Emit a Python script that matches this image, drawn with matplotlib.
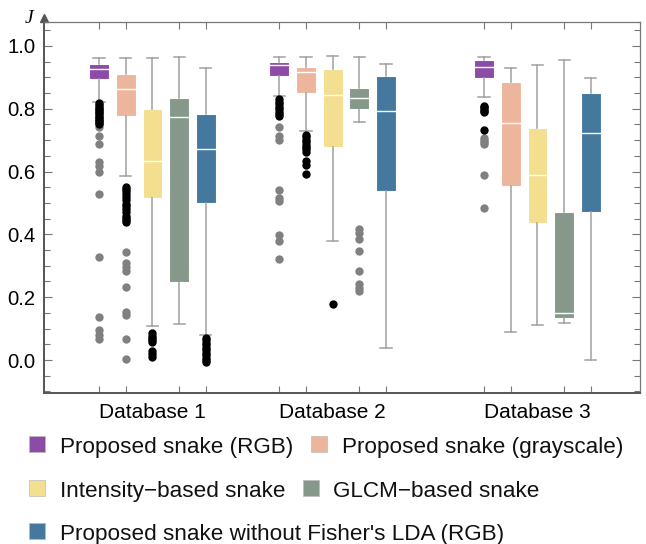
import matplotlib.pyplot as plt
from matplotlib.patches import Rectangle
from matplotlib.ticker import MultipleLocator

plt.rcParams["font.family"] = ["Liberation Sans", "DejaVu Sans"]

databases = ["Database 1", "Database 2", "Database 3"]
methods = [
    "Proposed snake (RGB)",
    "Proposed snake (grayscale)",
    "Intensity\u2212based snake",
    "GLCM\u2212based snake",
    "Proposed snake without Fisher's LDA (RGB)",
]
colors = ["#8b4ba6", "#edb69c", "#f3df8f", "#85988a", "#45789f"]

# (lower whisker, Q1, median, Q3, upper whisker) for each method
db1_stats = [
    (0.821, 0.894, 0.927, 0.943, 0.961),
    (0.586, 0.777, 0.863, 0.910, 0.961),
    (0.107, 0.515, 0.633, 0.799, 0.961),
    (0.115, 0.249, 0.773, 0.835, 0.964),
    (0.079, 0.501, 0.672, 0.782, 0.928),
]
db2_stats = [
    (0.842, 0.903, 0.940, 0.950, 0.963),
    (0.729, 0.850, 0.916, 0.934, 0.966),
    (0.380, 0.679, 0.843, 0.927, 0.969),
    (0.758, 0.799, 0.833, 0.865, 0.965),
    (0.037, 0.538, 0.792, 0.903, 0.942),
]
db3_stats = [
    (0.838, 0.898, 0.934, 0.954, 0.966),
    (0.090, 0.554, 0.754, 0.885, 0.928),
    (0.111, 0.437, 0.589, 0.738, 0.938),
    (0.117, 0.135, 0.151, 0.472, 0.955),
    (0.000, 0.472, 0.722, 0.849, 0.899),
]

# near outliers (black) and far outliers (gray)
db1_near = [
    [0.818, 0.812, 0.806, 0.800, 0.795, 0.790, 0.785, 0.780, 0.775, 0.770, 0.765, 0.760, 0.755, 0.750],
    [0.552, 0.545, 0.538, 0.527, 0.518, 0.508, 0.498, 0.490, 0.480, 0.470, 0.460, 0.452, 0.445, 0.440],
    [0.085, 0.078, 0.071, 0.064, 0.057, 0.030, 0.020, 0.011],
    [],
    [0.070, 0.063, 0.055, 0.047, 0.039, 0.031, 0.023, 0.015, 0.007, 0.000, -0.006],
]
db1_far = [
    [0.742, 0.713, 0.688, 0.630, 0.619, 0.600, 0.529, 0.329, 0.137, 0.097, 0.080, 0.066],
    [0.345, 0.310, 0.296, 0.284, 0.232, 0.154, 0.143, 0.067, 0.003],
    [],
    [],
    [],
]
db2_near = [
    [0.830, 0.822, 0.814, 0.806, 0.798, 0.790, 0.782, 0.776],
    [0.717, 0.709, 0.701, 0.693, 0.685, 0.678, 0.671, 0.663, 0.632, 0.621, 0.591],
    [0.178],
    [],
    [],
]
db2_far = [
    [0.743, 0.713, 0.701, 0.541, 0.517, 0.506, 0.399, 0.379, 0.321],
    [],
    [],
    [0.416, 0.405, 0.385, 0.346, 0.283, 0.241, 0.230, 0.221],
    [],
]
db3_near = [
    [0.810, 0.804, 0.799, 0.794, 0.789, 0.733],
    [], [], [], [],
]
db3_far = [
    [0.706, 0.700, 0.695, 0.689, 0.589, 0.483],
    [], [], [], [],
]

all_stats = [db1_stats, db2_stats, db3_stats]
all_near = [db1_near, db2_near, db3_near]
all_far = [db1_far, db2_far, db3_far]

group_starts = [0, 6.75, 14.42]

fig = plt.figure(figsize=(6.46, 5.44), dpi=100)
ax = fig.add_axes([44 / 646, 1 - 393 / 544, 596 / 646, 371 / 544])

box_positions = []
for g, stats in enumerate(all_stats):
    pos = [group_starts[g] + i for i in range(len(methods))]
    box_positions += pos
    bxp_stats = [
        dict(whislo=s[0], q1=s[1], med=s[2], q3=s[3], whishi=s[4], fliers=[])
        for s in stats
    ]
    bp = ax.bxp(
        bxp_stats, positions=pos, widths=0.74, capwidths=0.42,
        patch_artist=True, showfliers=False,
        boxprops=dict(edgecolor="white", linewidth=0.8),
        medianprops=dict(color="white", linewidth=1.0),
        whiskerprops=dict(color="#a0a0a0", linewidth=1.1),
        capprops=dict(color="#a0a0a0", linewidth=1.1),
    )
    for patch, c in zip(bp["boxes"], colors):
        patch.set_facecolor(c)
    for p, near, far in zip(pos, all_near[g], all_far[g]):
        ax.plot([p] * len(far), far, "o", color="#808080", ms=6, mec="none", zorder=3)
        ax.plot([p] * len(near), near, "o", color="black", ms=6, mec="none", zorder=3)

ax.set_xlim(-2.06, 20.26)
ax.set_ylim(-0.105, 1.076)

centers = [s + 2 for s in group_starts]
ax.set_xticks(centers)
ax.set_xticklabels(databases, fontsize=15)
ax.set_xticks(box_positions, minor=True)
ax.tick_params(axis="x", which="major", length=0, pad=7)
ax.tick_params(axis="x", which="minor", direction="in", length=5, top=True,
               color="#777777", width=0.8)

ax.set_yticks([0.0, 0.2, 0.4, 0.6, 0.8, 1.0])
ax.set_yticklabels(["0.0", "0.2", "0.4", "0.6", "0.8", "1.0"], fontsize=14.6)
ax.yaxis.set_minor_locator(MultipleLocator(0.05))
ax.tick_params(axis="y", which="both", direction="in", right=True,
               color="#777777", width=0.8, pad=6)
ax.tick_params(axis="y", which="major", length=6)
ax.tick_params(axis="y", which="minor", length=4)

for side in ["left", "bottom"]:
    ax.spines[side].set_color("#555555")
    ax.spines[side].set_linewidth(1.4)
for side in ["top", "right"]:
    ax.spines[side].set_color("#777777")
    ax.spines[side].set_linewidth(0.9)

# arrow head on the y axis and its label
ax.plot(0, 1.012, marker="^", ms=6, color="#555555", transform=ax.transAxes,
        clip_on=False)
ax.text(-0.018, 1.01, "J", transform=ax.transAxes, fontsize=14, style="italic",
        family="Liberation Serif", ha="right", va="center")

# legend laid out in three rows
legend_rows = [
    [(0, 29, 60), (1, 311, 342)],
    [(2, 29, 60), (3, 303, 333)],
    [(4, 29, 60)],
]
row_baselines = [453, 497, 540]
for row, base in zip(legend_rows, row_baselines):
    for idx, sx, tx in row:
        fig.patches.append(Rectangle(
            (sx / 646, 1 - (base - 1) / 544), 16 / 646, 16 / 544,
            transform=fig.transFigure, facecolor=colors[idx],
            edgecolor="#bbbbbb", linewidth=0.5))
        fig.text(tx / 646, 1 - base / 544, methods[idx], fontsize=16.2,
                 ha="left", va="baseline", color="#111111")

fig.savefig("out.png", dpi=100)
